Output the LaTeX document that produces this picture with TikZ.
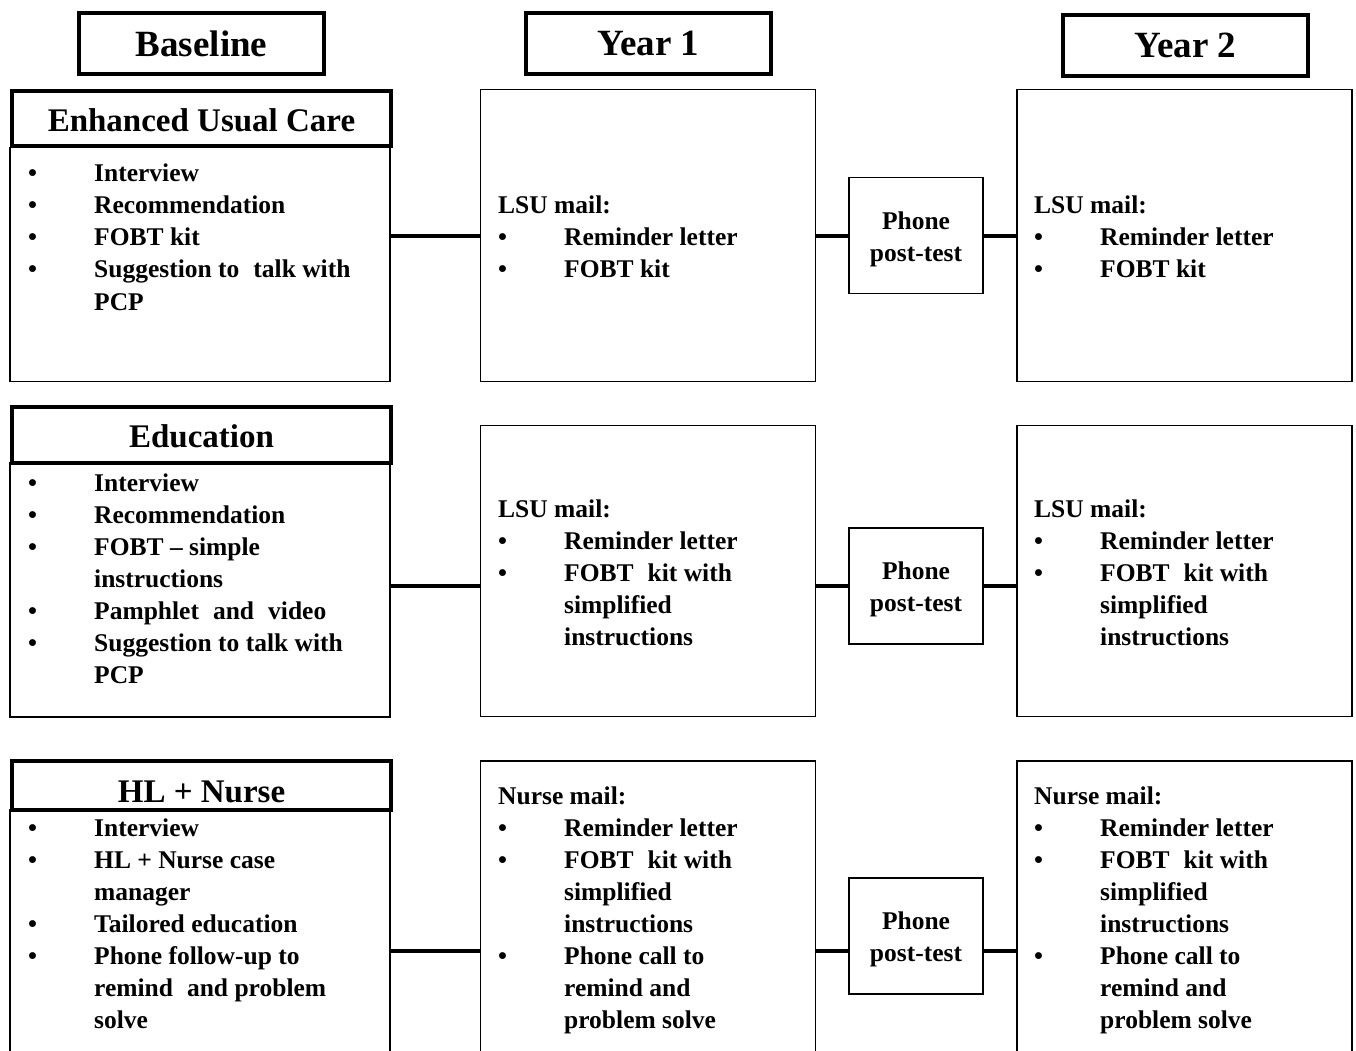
\documentclass[tikz,border=0pt]{standalone}
\usepackage{fontspec}
\setmainfont{Liberation Serif}
\usetikzlibrary{positioning}

\newcommand{\bodyfont}{\fontsize{25.5}{32}\selectfont\bfseries}
\newcommand{\wsp}{\hspace{0.55em}}
% bullet list: first column holds the bullet
\newenvironment{blist}{\begin{tabular}[t]{@{}p{66pt}@{}l@{}}}{\end{tabular}}

\tikzset{
  title/.style={draw, line width=4pt, minimum width=245pt, minimum height=61pt,
    inner sep=0pt, font=\fontsize{37}{40}\selectfont\bfseries},
  group/.style={draw, fill=white, line width=4pt, minimum width=379pt,
    inner sep=0pt, text depth=0pt, text height=#1,
    font=\fontsize{33}{36}\selectfont\bfseries},
  panel/.style={draw, line width=1.5pt, inner sep=0pt},
  phone/.style={draw, line width=1.5pt, minimum width=134pt, minimum height=116pt,
    inner sep=0pt, text height=41.4pt, text depth=22.6pt, font=\bodyfont},
  list/.style={anchor=base west, inner sep=0pt, font=\bodyfont},
  link/.style={line width=3.5pt},
}

\begin{document}
\begin{tikzpicture}[x=1pt, y=-1pt]

\useasboundingbox (0,0) rectangle (1356,1051);
\clip (0,0) rectangle (1356,1051);

%---------------------------------------
% Column titles
%---------------------------------------
\node[title] (base) at (201.5,43.5) {Baseline};
\node[title] (yr1)  at (648.5,43.5) {Year 1};
\node[title] (yr2)  at (1185.5,45.5) {Year 2};

% rows of the connectors
\coordinate (r1) at (0,236);
\coordinate (r2) at (0,586);
\coordinate (r3) at (0,951);

%====================================================
% ROW 1: Enhanced usual care
%====================================================
\node[panel, minimum width=380pt, minimum height=234pt] (eucL) at (200,264.5) {};
\node[group=26pt, minimum height=55pt] (euc) at (201.5,118.5) {Enhanced Usual Care};
\node[list] (eucT) at (28,182) {\begin{blist}
  \textbullet & Interview\\
  \textbullet & Recommendation\\
  \textbullet & FOBT kit\\
  \textbullet & Suggestion to\wsp talk with\\
              & PCP
\end{blist}};

\node[panel, minimum width=335pt, minimum height=292pt] (y1a) at (648,235.5) {};
\node[list] (y1aT) at (498,213) {\begin{blist}
  \multicolumn{2}{@{}l@{}}{LSU mail:}\\
  \textbullet & Reminder letter\\
  \textbullet & FOBT kit
\end{blist}};

\node[phone] (ph1) at (916,235.5) {\begin{tabular}{@{}c@{}}Phone\\post-test\end{tabular}};

\node[panel, minimum width=335pt, minimum height=292pt] (y2a) at (1184.5,235.5) {};
\node[list] (y2aT) at (1034,213) {\begin{blist}
  \multicolumn{2}{@{}l@{}}{LSU mail:}\\
  \textbullet & Reminder letter\\
  \textbullet & FOBT kit
\end{blist}};

\draw[link] (eucL.east |- r1) -- (y1a.west |- r1);
\draw[link] (y1a.east |- r1) -- (ph1.west |- r1);
\draw[link] (ph1.east |- r1) -- (y2a.west |- r1);

%====================================================
% ROW 2: Education
%====================================================
\node[panel, minimum width=380pt, minimum height=254pt] (eduL) at (200,590) {};
\node[group=25pt, minimum height=56pt] (edu) at (201.5,434.5) {Education};
\node[list] (eduT) at (28,491) {\begin{blist}
  \textbullet & Interview\\
  \textbullet & Recommendation\\
  \textbullet & FOBT – simple\\
              & instructions\\
  \textbullet & Pamphlet\wsp and\wsp video\\
  \textbullet & Suggestion to talk with\\
              & PCP
\end{blist}};

\node[panel, minimum width=335pt, minimum height=291pt] (y1b) at (648,571) {};
\node[list] (y1bT) at (498,517) {\begin{blist}
  \multicolumn{2}{@{}l@{}}{LSU mail:}\\
  \textbullet & Reminder letter\\
  \textbullet & FOBT\wsp kit with\\
              & simplified\\
              & instructions
\end{blist}};

\node[phone] (ph2) at (916,586) {\begin{tabular}{@{}c@{}}Phone\\post-test\end{tabular}};

\node[panel, minimum width=335pt, minimum height=291pt] (y2b) at (1184.5,571) {};
\node[list] (y2bT) at (1034,517) {\begin{blist}
  \multicolumn{2}{@{}l@{}}{LSU mail:}\\
  \textbullet & Reminder letter\\
  \textbullet & FOBT\wsp kit with\\
              & simplified\\
              & instructions
\end{blist}};

\draw[link] (eduL.east |- r2) -- (y1b.west |- r2);
\draw[link] (y1b.east |- r2) -- (ph2.west |- r2);
\draw[link] (ph2.east |- r2) -- (y2b.west |- r2);

%====================================================
% ROW 3: HL + Nurse (cut at the page bottom)
%====================================================
\node[panel, minimum width=380pt, minimum height=290pt] (hlnL) at (200,955) {};
\node[group=33pt, minimum height=49pt] (hln) at (201.5,785.5) {HL + Nurse};
\node[list] (hlnT) at (28,836.5) {\begin{blist}
  \textbullet & Interview\\
  \textbullet & HL + Nurse case\\
              & manager\\
  \textbullet & Tailored education\\
  \textbullet & Phone follow-up to\\
              & remind\wsp and problem\\
              & solve
\end{blist}};

\node[panel, minimum width=335pt, minimum height=339pt] (y1c) at (648,930.5) {};
\node[list] (y1cT) at (498,804) {\begin{blist}
  \multicolumn{2}{@{}l@{}}{Nurse mail:}\\
  \textbullet & Reminder letter\\
  \textbullet & FOBT\wsp kit with\\
              & simplified\\
              & instructions\\
  \textbullet & Phone call to\\
              & remind and\\
              & problem solve
\end{blist}};

\node[phone] (ph3) at (916,936) {\begin{tabular}{@{}c@{}}Phone\\post-test\end{tabular}};

\node[panel, minimum width=335pt, minimum height=339pt] (y2c) at (1184.5,930.5) {};
\node[list] (y2cT) at (1034,804) {\begin{blist}
  \multicolumn{2}{@{}l@{}}{Nurse mail:}\\
  \textbullet & Reminder letter\\
  \textbullet & FOBT\wsp kit with\\
              & simplified\\
              & instructions\\
  \textbullet & Phone call to\\
              & remind and\\
              & problem solve
\end{blist}};

\draw[link] (hlnL.east |- r3) -- (y1c.west |- r3);
\draw[link] (y1c.east |- r3) -- (ph3.west |- r3);
\draw[link] (ph3.east |- r3) -- (y2c.west |- r3);

\end{tikzpicture}
\end{document}
